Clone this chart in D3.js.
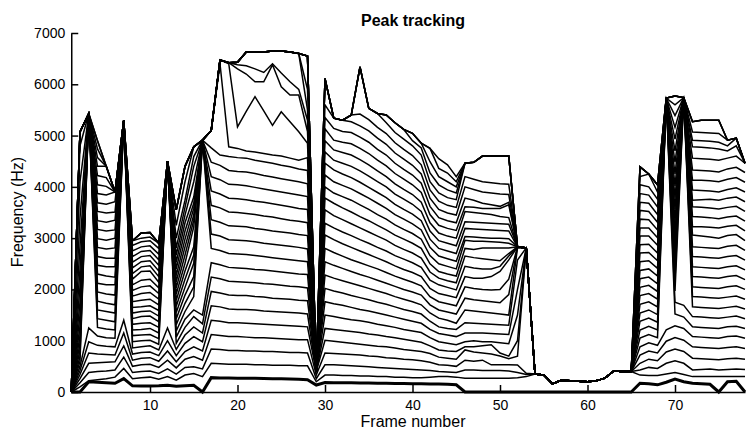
<!DOCTYPE html>
<html>
<head>
<meta charset="utf-8">
<script src="https://cdn.jsdelivr.net/npm/d3@7"></script>
<style>
  body { margin: 0; background: #fff; }
  svg text { font-family: "Liberation Sans", Arial, Helvetica, sans-serif; fill: #000; }
</style>
</head>
<body>
<div id="chart"></div>
<script>
// thick track: lowest peak per frame (0 = none)
const pitch = [0,0,200,190,180,170,260,120,115,115,120,130,110,120,130,0,
  280,275,272,270,268,266,262,260,258,255,250,240,136,
  185,182,180,178,176,174,172,170,168,165,162,160,158,155,150,140,
  0,0,0,0,0,0,0,0,0,0,0,0,0,0,0,0,0,0,0,0,
  170,160,140,190,250,200,170,160,150,0,200,210,0];

// peaks found in each frame (Hz), ascending
const peaks = [
  [0],
  [100,180,260,340,420,500,600,700,820,950,1100,1280,1500,1750,2050,2400,2850,3400,4100,4800,5070],
  [220,380,560,760,980,1250,5430],
  [240,400,570,740,910,1090,1260,1430,1600,1770,1950,2120,2300,2470,2640,2820,2990,3170,3340,3520,3690,3870,4040,4220,4400,4570,4740,4900],
  [260,410,580,730,890,1060,1230,1400,1570,1730,1910,2090,2260,2440,2610,2790,2960,3140,3310,3490,3660,3840,4010,4180,4400],
  [290,430,590,720,880,1050,1210,1370,1540,1700,1890,2090,2240,2440,2610,2810,3000,3160,3350,3510,3710,3900],
  [460,680,900,1150,1400,5300],
  [260,380,500,620,740,860,980,1100,1210,1320,1430,1540,1650,1760,1870,1980,2090,2200,2310,2420,2530,2640,2750,2860,2950],
  [280,400,530,660,770,880,1000,1110,1220,1340,1470,1570,1660,1790,1920,2050,2180,2350,2440,2540,2640,2740,2830,2930,3000,3100],
  [290,410,540,670,780,900,1010,1120,1240,1350,1480,1580,1680,1810,1940,2070,2200,2360,2460,2560,2660,2760,2850,2950,3020,3110],
  [250,360,480,600,710,820,930,1040,1150,1260,1370,1480,1590,1700,1810,1920,2030,2140,2250,2360,2470,2580,2690,2800,2900],
  [300,450,620,800,1000,1250,4500],
  [230,350,470,590,710,830,950,1070,1190,1310,1430,1550,1670,1790,1910,2030,2150,2270,2400,2530,2670,2810,3000,3250,3550],
  [330,480,640,790,950,1110,1260,1420,1570,1730,1890,2040,2200,2360,2510,2670,2830,2980,3140,3300,3450,3600,3740,4100,4400],
  [360,490,690,880,1080,1270,1470,1600,1860,2050,2250,2510,2670,2830,3220,3350,3450,3580,3680,3800,4100,4400,4590,4780],
  [300,450,620,800,980,1150,1330,1500,4910],
  [560,840,1120,1400,1680,1960,2240,2520,2800,3080,3360,3640,3920,4200,4480,4760,5100],
  [550,830,1100,1380,1660,1930,2210,2480,2760,3040,3310,3590,3860,4140,4420,4620,6400,6475],
  [540,810,1080,1350,1620,1890,2160,2430,2700,2970,3240,3510,3780,4050,4320,4590,4780,6400,6420],
  [540,810,1080,1350,1610,1880,2150,2420,2690,2960,3230,3500,3770,4040,4300,4570,4750,5170,6300,6380,6430],
  [540,800,1070,1340,1610,1880,2140,2410,2680,2950,3220,3480,3750,4020,4290,4560,4700,5470,6200,6360,6630],
  [530,800,1060,1330,1600,1860,2130,2390,2660,2930,3190,3460,3720,3990,4260,4520,4680,5760,6050,6300,6630],
  [530,790,1060,1320,1580,1850,2110,2380,2640,2900,3170,3430,3700,3960,4220,4490,4650,5480,6050,6230,6630],
  [520,790,1050,1310,1570,1830,2100,2360,2620,2880,3140,3410,3670,3930,4190,4460,4620,5200,6380,6400,6650],
  [520,780,1040,1300,1560,1820,2080,2340,2600,2860,3120,3380,3640,3900,4160,4420,4600,5465,5950,6220,6650],
  [520,770,1030,1290,1550,1810,2060,2320,2580,2840,3100,3350,3610,3870,4130,4390,4560,5270,5790,6050,6630],
  [510,770,1020,1280,1540,1790,2050,2300,2560,2820,3070,3330,3580,3840,4100,4350,4520,5075,5790,5900,6600],
  [510,760,1020,1270,1520,1780,2030,2290,2540,2790,3050,3300,3560,3810,4060,4320,4570,4850,5080,5300,5500,5900,6550],
  [200,260,330,400],
  [330,530,760,1010,1240,1500,1760,2020,2280,2540,2800,3060,3290,3550,3780,4000,4230,4460,4680,4900,5130,5350,5600,6110],
  [330,530,750,990,1220,1470,1720,1970,2220,2470,2720,2970,3200,3440,3680,3880,4100,4330,4520,4720,4910,5140,5340],
  [320,520,740,970,1200,1440,1690,1930,2170,2410,2650,2890,3120,3360,3590,3810,4030,4250,4460,4670,4870,5080,5300],
  [320,510,730,950,1180,1410,1650,1880,2120,2350,2580,2820,3050,3280,3510,3740,3960,4180,4400,4620,4840,5060,5270,5400],
  [310,500,720,930,1160,1390,1610,1840,2070,2290,2520,2750,2970,3200,3420,3650,3870,4090,4310,4530,4750,4970,5190,5420,6340],
  [310,490,700,910,1130,1360,1580,1800,2020,2240,2460,2680,2900,3120,3340,3560,3780,3990,4210,4430,4650,4870,5090,5310,5530],
  [300,480,690,890,1110,1320,1540,1750,1970,2180,2400,2610,2820,3040,3250,3460,3680,3890,4100,4310,4520,4730,4950,5160,5430],
  [300,470,670,880,1080,1290,1500,1710,1920,2120,2330,2540,2750,2960,3160,3370,3580,3790,4000,4200,4410,4620,4830,5040,5250,5400],
  [290,460,660,860,1060,1260,1460,1660,1860,2060,2260,2460,2660,2860,3060,3260,3460,3660,3860,4060,4260,4460,4660,4860,5060,5250],
  [290,450,640,830,1030,1220,1420,1610,1810,2000,2200,2390,2590,2780,2980,3170,3370,3560,3760,3950,4150,4340,4540,4730,4930,5120],
  [280,440,630,810,1000,1190,1380,1570,1760,1950,2140,2330,2520,2710,2900,3090,3280,3470,3660,3850,4040,4230,4420,4610,4800,4900,5045],
  [280,430,610,790,970,1160,1340,1520,1700,1890,2070,2250,2430,2610,2800,2980,3160,3340,3520,3700,3890,4070,4250,4430,4620,4760,4850],
  [290,420,580,750,900,1060,1220,1380,1540,1700,1860,2020,2180,2340,2500,2660,2820,2980,3140,3300,3460,3620,3780,3940,4100,4270,4490,4750],
  [300,400,530,680,820,980,1140,1270,1440,1600,1760,1920,2090,2220,2350,2500,2650,2800,2950,3100,3250,3400,3560,3720,3880,4040,4200,4360,4550],
  [300,390,520,660,800,950,1110,1240,1400,1560,1720,1880,2040,2170,2300,2450,2600,2750,2900,3040,3190,3340,3490,3640,3790,3940,4100,4270,4430],
  [290,380,500,640,790,920,1080,1220,1340,1520,1680,1840,1990,2130,2260,2400,2550,2700,2850,3000,3150,3300,3450,3600,3750,3880,4000,4100,4200],
  [270,430,620,820,880,980,1150,1350,1600,1830,2050,2250,2450,2650,2800,2960,3030,3190,3320,3520,3610,3780,4000,4200,4460],
  [270,430,600,780,880,1000,1150,1340,1580,1800,2020,2220,2420,2620,2780,2940,3020,3180,3310,3500,3600,3740,3950,4150,4480],
  [270,420,620,760,900,980,1150,1330,1560,1780,2000,2220,2400,2600,2810,2940,3010,3170,3300,3480,3580,3680,3900,4100,4600],
  [270,420,530,740,920,980,1140,1320,1540,1760,1990,2250,2400,2580,2810,2930,3000,3160,3290,3460,3580,3650,3880,4080,4600],
  [270,420,530,700,760,960,1130,1310,1520,1740,2000,2350,2450,2560,2810,2920,3000,3150,3280,3420,3580,3620,3860,4060,4600],
  [270,410,530,650,700,940,1120,1300,1500,1900,2200,2575,2650,2700,2810,2900,2990,3140,3270,3400,3650,3700,3850,4050,4600],
  [280,380,527,700,1000,1500,2000,2575,2810,2830],
  [300,340,365,2810],
  [350],[330],[160],[230],[220],[210],[200],[220],[270],[410],[400],[400],
  [330,430,560,720,880,1050,1210,1380,1540,1710,1880,2040,2210,2370,2540,2710,2870,3040,3200,3370,3540,3700,3870,4040,4200,4390],
  [320,480,640,800,960,1120,1280,1440,1600,1760,1920,2080,2240,2400,2560,2720,2880,3040,3200,3360,3520,3680,3840,4000,4250],
  [320,460,610,760,910,1060,1210,1360,1510,1660,1810,1960,2110,2260,2410,2560,2710,2860,3010,3160,3310,3460,3610,3760,3900,4040],
  [350,560,780,990,1210,5730],
  [380,610,840,1060,1290,1520,1750,1970,2200,2430,2660,2880,3110,3340,3570,3790,4020,4250,4480,4700,4930,5160,5390,5600,5770],
  [340,560,790,1010,1240,1460,1690,5740],
  [300,430,660,880,1080,1270,1470,1660,1860,2050,2250,2440,2640,2830,3060,3220,3420,3610,3740,3940,4130,4330,4560,4780,4910,5070,5270],
  [300,440,650,870,1070,1260,1460,1650,1850,2040,2240,2430,2630,2820,3040,3220,3410,3600,3750,3930,4130,4320,4550,4770,4900,5060,5300],
  [300,450,640,860,1060,1250,1450,1640,1840,2030,2230,2420,2620,2810,3020,3210,3400,3590,3760,3920,4120,4310,4540,4760,4890,5050,5300],
  [300,430,630,850,1050,1240,1440,1630,1830,2020,2220,2410,2610,2800,3000,3200,3380,3570,3740,3900,4100,4290,4520,4740,4870,5040,5300],
  [300,440,650,870,1080,1270,1460,1650,1850,2050,2250,2440,2640,2840,3050,3230,3410,3600,3780,3950,4150,4350,4560,4700,4800,4910],
  [300,450,660,880,1090,1280,1480,1670,1870,2070,2270,2460,2660,2860,3070,3250,3430,3620,3800,3980,4180,4380,4600,4800,4950],
  [300,440,640,850,1050,1240,1430,1620,1810,2000,2190,2380,2570,2760,2950,3140,3330,3520,3710,3900,4090,4280,4460]
];

const xTicks = [10, 20, 30, 40, 50, 60, 70];
const yTicks = [0, 1000, 2000, 3000, 4000, 5000, 6000, 7000];

const width = 746, height = 429;
const svg = d3.select("#chart").append("svg")
    .attr("width", width)
    .attr("height", height);

const frames = peaks.map((p, i) => i + 1);

const x = d3.scaleLinear().domain([1, frames.length]).range([71.25, 745]);
const y = d3.scaleLinear().domain([0, 7000]).range([392, 33]);

// every track k takes the k-th peak, frames with fewer peaks repeat their top one
const nTracks = d3.max(peaks, p => p.length);
const tracks = d3.range(nTracks).map(k =>
    peaks.map((p, i) => [frames[i], p[Math.min(k, p.length - 1)]]));

const line = d3.line().x(d => x(d[0])).y(d => y(d[1]));

svg.append("g").selectAll("path")
    .data(tracks)
    .join("path")
    .attr("d", line)
    .attr("fill", "none")
    .attr("stroke", "#000")
    .attr("stroke-width", 1.5);

svg.append("path")
    .datum(pitch.map((v, i) => [frames[i], v]))
    .attr("d", line)
    .attr("fill", "none")
    .attr("stroke", "#000")
    .attr("stroke-width", 3);

/* axes, ticks pointing inward */
const xAxis = svg.append("g")
    .attr("transform", `translate(0,${y(0)})`)
    .call(d3.axisBottom(x).tickValues(xTicks).tickSizeInner(-7).tickSizeOuter(0).tickPadding(8));
const yAxis = svg.append("g")
    .attr("transform", `translate(${x(1)},0)`)
    .call(d3.axisLeft(y).tickValues(yTicks).tickFormat(d3.format("d"))
        .tickSizeInner(-7).tickSizeOuter(0).tickPadding(6));

[xAxis, yAxis].forEach(g => {
    g.select(".domain").attr("stroke", "#000").attr("stroke-width", 1.5);
    g.selectAll(".tick line").attr("stroke", "#000").attr("stroke-width", 1.5);
    g.selectAll(".tick text").attr("font-size", 14).attr("font-family", null);
});

svg.append("text")
    .attr("x", 413).attr("y", 26)
    .attr("text-anchor", "middle")
    .attr("font-size", 16).attr("font-weight", "bold")
    .text("Peak tracking");

svg.append("text")
    .attr("x", 413).attr("y", 427)
    .attr("text-anchor", "middle")
    .attr("font-size", 16)
    .text("Frame number");

svg.append("text")
    .attr("transform", "translate(23,212) rotate(-90)")
    .attr("text-anchor", "middle")
    .attr("font-size", 16)
    .text("Frequency (Hz)");
</script>
</body>
</html>
